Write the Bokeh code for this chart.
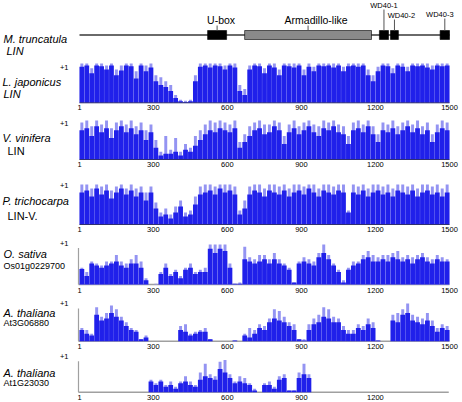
from bokeh.plotting import figure
from bokeh.models import Range1d
from bokeh.embed import file_html
from bokeh.resources import INLINE
from bokeh.core.properties import value

# ---------------- data ----------------
BIN = 20  # residues per bar
tick_values = [1, 300, 600, 900, 1200, 1500]
tick_labels = ["1", "300", "600", "900", "1200", "1500"]

domain_names = ["U-box", "Armadillo-like", "WD40-1", "WD40-2", "WD40-3"]
domain_start = [520, 670, 1216, 1261, 1462]
domain_end = [597, 1184, 1253, 1293, 1500]
domain_color = ["black", "#8a8a8a", "black", "black", "black"]
protein_length = 1500

lj_dark = [0.92,0.95,0.75,0.95,0.93,0.85,0.95,0.7,0.82,0.95,0.93,0.62,0.95,0.8,0.9,
           0.55,0.45,0.4,0.3,0.12,0.04,0.02,0.04,0.55,0.92,
           0.95,0.9,0.95,0.93,0.85,0.95,0.9,
           0.3,0.2,
           0.85,0.95,0.93,0.75,0.95,0.9,0.7,0.95,0.93,0.9,0.95,0.7,0.92,0.8,0.95,0.93,0.95,0.9,0.95,0.8,
           0.93,0.95,0.92,0.95,0.7,0.55,0.8,0.95,0.93,0.75,0.95,0.92,0.8,0.95,0.93,0.95,0.9,0.85,0.95,0.93,0.95]
lj_light = [1,1,0.88,1,1,0.95,1,0.85,0.95,1,1,0.8,1,0.95,1,
            0.7,0.65,0.55,0.45,0.2,0.08,0.05,0.08,0.7,1,
            1,1,1,1,0.95,1,1,
            0.45,0.35,
            0.95,1,1,0.88,1,1,0.85,1,1,1,1,0.85,1,0.92,1,1,1,1,1,0.92,
            1,1,1,1,0.85,0.7,0.92,1,1,0.88,1,1,0.92,1,1,1,1,0.95,1,1,1]

vv_dark = [0.75,0.8,0.6,0.85,0.7,0.8,0.55,0.75,0.85,0.7,0.8,0.65,0.75,0.5,0.7,
           0.3,0.1,0.15,0.15,0.2,0.1,0.25,0.2,0.35,0.5,
           0.65,0.75,0.7,0.8,0.75,0.7,0.8,
           0.3,0.45,
           0.6,0.75,0.8,0.65,0.7,0.85,0.75,0.4,0.7,0.8,0.65,0.75,0.85,0.7,0.6,0.8,0.75,0.85,0.7,0.65,
           0.4,0.75,0.8,0.7,0.85,0.65,0.45,0.75,0.7,0.8,0.65,0.75,0.85,0.7,0.8,0.65,0.75,0.45,0.7,0.8,0.75]
vv_light = [0.95,1,0.85,1,0.9,1,0.8,0.95,1,0.9,1,0.85,0.95,0.75,0.9,
            0.5,0.2,0.6,0.25,0.55,0.2,0.4,0.3,0.6,0.75,
            0.9,1,0.95,1,0.95,0.9,1,
            0.45,0.65,
            0.85,0.95,1,0.9,0.9,1,0.95,0.6,0.9,1,0.85,0.95,1,0.9,0.85,1,0.95,1,0.9,0.85,
            0.6,0.95,1,0.9,1,0.85,0.65,0.95,0.9,1,0.85,0.95,1,0.9,1,0.85,0.95,0.65,0.9,1,0.95]

pt_dark = [0.8,0.85,0.7,0.9,0.75,0.85,0.65,0.8,0.9,0.75,0.85,0.7,0.8,0.6,0.8,
           0.4,0.2,0.25,0.15,0.3,0.45,0.2,0.25,0.5,0.75,
           0.8,0.85,0.75,0.9,0.8,0.85,0.75,
           0.25,0.4,
           0.75,0.85,0.8,0.7,0.85,0.8,0.75,0.85,0.7,0.8,0.85,0.75,0.9,0.8,0.7,0.85,0.8,0.75,0.85,0.8,
           0.3,0.8,0.75,0.85,0.7,0.8,0.85,0.75,0.8,0.7,0.85,0.8,0.75,0.85,0.7,0.8,0.85,0.75,0.8,0.7,0.8]
pt_light = [1,1,0.9,1,0.95,1,0.85,0.95,1,0.9,1,0.9,0.95,0.8,0.95,
            0.55,0.3,0.4,0.25,0.45,0.6,0.3,0.35,0.7,0.95,
            1,1,0.95,1,1,1,0.95,
            0.35,0.6,
            0.95,1,1,0.9,1,1,0.95,1,0.9,1,1,0.95,1,1,0.9,1,1,0.95,1,1,
            0.35,1,0.95,1,0.9,1,1,0.95,1,0.9,1,1,0.95,1,0.9,1,1,0.95,1,0.9,1]

os_dark = [0.37,0.2,0.5,0.45,0.4,0.45,0.5,0.55,0.45,0.4,
           0.5,0.5,0.4,0.1,0,0,0.25,0.4,0.2,0.3,
           0.15,0.35,0.4,0.25,0.3,0.3,0.85,0.75,0.85,0.8,
           0.4,0.02,0.02,0.6,0.55,0.5,0.55,0.6,0.5,0.6,
           0.5,0.45,0.35,0.05,0.5,0.55,0.5,0.45,0.65,0.75,
           0.6,0.45,0.3,0.05,0.35,0.45,0.5,0.6,0.65,0.55,
           0.55,0.6,0.55,0.65,0.6,0.55,0.6,0.5,0.6,0.65,
           0.55,0.5,0.6,0.55,0.55]
os_light = [0.4,0.3,0.55,0.5,0.45,0.55,0.55,0.7,0.55,0.5,
            0.6,0.7,0.55,0.15,0,0.02,0.3,0.5,0.25,0.35,
            0.2,0.4,0.5,0.3,0.35,0.4,0.95,0.95,0.95,0.95,
            0.5,0.02,0.05,0.9,0.65,0.6,0.7,0.7,0.6,0.75,
            0.6,0.5,0.4,0.05,0.55,0.65,0.6,0.55,0.75,0.95,
            0.7,0.5,0.35,0.1,0.4,0.55,0.55,0.7,0.8,0.7,
            0.65,0.7,0.7,0.75,0.8,0.65,0.7,0.65,0.7,0.75,
            0.65,0.6,0.7,0.65,0.6]

at3_dark = [0.3,0.2,0.15,0.7,0.55,0.6,0.75,0.65,0.55,0.4,
            0.3,0.25,0.05,0.1,0,0,0,0,0,0,
            0.3,0.25,0.15,0.2,0.25,0.25,0.05,0,0,0,
            0,0.02,0,0.15,0.1,0.2,0.35,0.3,0.5,0.6,
            0.55,0.5,0.4,0.3,0.05,0.02,0.3,0.45,0.5,0.65,
            0.6,0.5,0.5,0.3,0.2,0.2,0.35,0.3,0.45,0.35,
            0.02,0,0,0.55,0.5,0.7,0.75,0.55,0.5,0.45,
            0.55,0.4,0.25,0.35,0.3]
at3_light = [0.35,0.3,0.2,0.9,0.65,0.75,0.95,0.85,0.65,0.5,
             0.35,0.3,0.05,0.15,0,0,0,0,0,0,
             0.4,0.45,0.2,0.25,0.3,0.35,0.05,0,0,0,
             0,0.02,0,0.2,0.35,0.3,0.45,0.4,0.6,0.85,
             0.8,0.65,0.5,0.45,0.05,0.05,0.45,0.6,0.7,0.9,
             0.85,0.65,0.6,0.4,0.3,0.3,0.45,0.4,0.6,0.5,
             0.02,0,0,0.7,0.75,0.85,1.0,0.7,0.65,0.6,
             0.75,0.55,0.35,0.45,0.4]

at1_dark = [0,0,0,0,0,0,0,0,0,0,
            0,0,0,0,0.3,0.2,0.3,0.15,0.2,0.1,
            0.25,0.3,0.2,0.15,0.35,0.45,0.4,0.35,0.65,0.55,
            0.4,0.25,0.3,0.25,0.2,0.05,0,0.2,0.2,0.1,
            0.35,0.4,0.05,0.05,0.4,0.5,0.4,0,0,0,
            0,0,0,0,0,0,0,0,0,0,
            0,0,0,0,0,0,0,0,0,0,
            0,0,0,0,0]
at1_light = [0,0,0,0,0,0,0,0,0,0,
             0,0,0,0,0.35,0.25,0.35,0.2,0.3,0.15,
             0.3,0.45,0.3,0.2,0.55,0.8,0.5,0.45,0.85,0.9,
             0.5,0.3,0.45,0.4,0.25,0.1,0,0.25,0.3,0.15,
             0.45,0.5,0.05,0.05,0.55,0.8,0.5,0,0,0,
             0,0,0,0,0,0,0,0,0,0,
             0,0,0,0,0,0,0,0,0,0,
             0,0,0,0,0]

series = [(lj_dark, lj_light), (vv_dark, vv_light), (pt_dark, pt_light),
          (os_dark, os_light), (at3_dark, at3_light), (at1_dark, at1_light)]
for d, l in series:
    assert len(d) == 75 and len(l) == 75, (len(d), len(l))

# ---------------- layout (picture pixels) ----------------
W, H = 462, 402
PX0 = 79.0            # picture x of residue 1
PXS = 370.0 / 1499.0  # pixels per residue

def rx(px):
    return 1 + (px - PX0) / PXS

FONT = value("Liberation Sans")
DARK = "#2020ea"
LIGHT = "#9494f2"

p = figure(width=W, height=H, x_range=Range1d(rx(0), rx(W)),
           y_range=Range1d(H, 0), output_backend="svg", toolbar_location=None,
           x_axis_location=None, y_axis_location=None, min_border=0)
p.grid.visible = False
p.outline_line_color = None
p.background_fill_color = "white"
p.border_fill_color = "white"

# -------- domain diagram --------
LINE_Y = 34.5
p.segment(x0=[1], y0=[LINE_Y], x1=[protein_length], y1=[LINE_Y], line_color="#6a6a6a", line_width=2)
p.quad(left=domain_start, right=domain_end, top=[30] * 5, bottom=[39] * 5,
       fill_color=domain_color, line_color="black", line_width=0.6)
centers = [(s + e) / 2 for s, e in zip(domain_start, domain_end)]
lead_top = [25, 25, 9, 19, 18]
p.segment(x0=centers, y0=lead_top, x1=centers, y1=[30] * 5, line_color="#555555", line_width=1)
lab_dx = [4, 8, 0, 7, -5]
lab_y = [19, 19, 4.5, 14.5, 14]
lab_size = ["10.5px", "10.5px", "7.5px", "7.5px", "7.5px"]
for i in range(5):
    p.text(x=[centers[i] + lab_dx[i] / PXS], y=[lab_y[i]], text=[domain_names[i]],
           text_font=FONT, text_font_size=lab_size[i], text_align="center",
           text_baseline="middle", text_color="black")

p.text(x=[rx(3)], y=[38.3], text=["M. truncatula"], text_font=FONT, text_font_size="11px",
       text_font_style="italic", text_baseline="middle")
p.text(x=[rx(6)], y=[50], text=["LIN"], text_font=FONT, text_font_size="11px",
       text_font_style="italic", text_baseline="middle")

# -------- conservation panels --------
panels = [
    dict(top=63, base=102.3, ticky=107.3, plusy=66.7, framed=False, ticks=6,
         lines=[("L. japonicus", 2, 81.7, "11px", "italic"), ("LIN", 3, 93.3, "11px", "italic")]),
    dict(top=120, base=159, ticky=164.3, plusy=122.7, framed=False, ticks=6,
         lines=[("V. vinifera", 2, 137.5, "11px", "italic"), ("LIN", 7, 150, "11px", "normal")]),
    dict(top=184, base=224, ticky=229.3, plusy=185, framed=False, ticks=6,
         lines=[("P. trichocarpa", 2, 200, "11px", "italic"), ("LIN-V.", 7, 215, "11px", "normal")]),
    dict(top=242, base=284, ticky=289.5, plusy=243, framed=True, ticks=6,
         lines=[("O. sativa", 3, 253.3, "11px", "italic"), ("Os01g0229700", 3, 265.5, "9px", "normal")]),
    dict(top=303, base=340.7, ticky=346, plusy=303, framed=True, ticks=6,
         lines=[("A. thaliana", 3, 312, "11px", "italic"), ("At3G06880", 3, 322.5, "9px", "normal")]),
    dict(top=356, base=391.7, ticky=397.3, plusy=356, framed=True, ticks=5,
         lines=[("A. thaliana", 3, 372, "11px", "italic"), ("At1G23030", 3, 382.5, "9px", "normal")]),
]

xs = [1 + BIN * i + BIN / 2 - 0.5 for i in range(75)]
for (dark, light), pan in zip(series, panels):
    h = pan["base"] - pan["top"]
    base = pan["base"]
    if pan["framed"]:
        p.segment(x0=[rx(78)], y0=[base], x1=[rx(78)], y1=[base - 0.87 * h],
                  line_color="#a0a0a0", line_width=1.2)
        p.segment(x0=[rx(78)], y0=[base], x1=[protein_length if pan["ticks"] == 6 else 1497],
                  y1=[base], line_color="#a0a0a0", line_width=1.5)
    p.vbar(x=xs, width=BIN * 0.6, bottom=base, top=[base - v * h for v in light],
           fill_color=LIGHT, line_color=None)
    p.vbar(x=xs, width=BIN * 0.97, bottom=base, top=[base - v * h for v in dark],
           fill_color=DARK, line_color=None)
    if not pan["framed"]:
        p.segment(x0=[1], y0=[base], x1=[protein_length], y1=[base],
                  line_color="#303070", line_width=1)
    n = pan["ticks"]
    p.text(x=tick_values[:n], y=[pan["ticky"]] * n, text=tick_labels[:n], text_font=FONT,
           text_font_size="7.5px", text_align="center", text_baseline="middle")
    p.text(x=[rx(68)], y=[pan["plusy"]], text=["+1"], text_font=FONT, text_font_size="7.5px",
           text_align="right", text_baseline="middle")
    for txt, px, py, size, style in pan["lines"]:
        p.text(x=[rx(px)], y=[py], text=[txt], text_font=FONT, text_font_size=size,
               text_font_style=style, text_baseline="middle")

open("out.html", "w").write(file_html(p, INLINE))
